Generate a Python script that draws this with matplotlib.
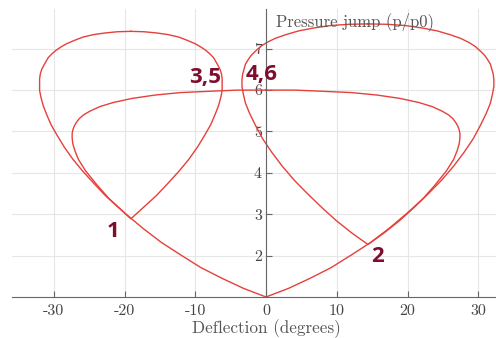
import numpy as np
import matplotlib
matplotlib.use("Agg")
import matplotlib.pyplot as plt
from matplotlib.transforms import blended_transform_factory

# Shock polars (deflection measured from each polar's centre, pressure p/p0)
# incident polar, free stream at origin
polar0_center = 0.0
polar0_defl = [0.0, 3.2, 6.2, 9.2, 12.0, 14.8, 17.4, 19.9, 22.2, 24.0, 25.5, 26.5, 27.0, 27.3, 27.4,
               27.4, 27.3, 27.1, 26.8, 26.4, 25.8, 24.9, 23.5, 21.6, 18.9, 15.7, 12.1, 8.2, 4.1, 0.0]
polar0_p = [1.00, 1.21, 1.45, 1.71, 2.01, 2.32, 2.66, 3.02, 3.38, 3.73, 4.05, 4.32, 4.53, 4.70, 4.84,
            4.95, 5.04, 5.13, 5.22, 5.31, 5.40, 5.49, 5.60, 5.70, 5.80, 5.88, 5.94, 5.97, 6.00, 6.00]

# polar from state 1 (left)
polar1_center = -19.1
polar1_defl = [0.0, 1.8, 3.6, 5.2, 6.8, 8.2, 9.4, 10.4, 11.3, 11.9, 12.4, 12.7, 12.9, 12.9, 12.9,
               12.8, 12.6, 12.3, 12.0, 11.7, 11.2, 10.6, 9.9, 9.1, 8.0, 6.8, 5.3, 3.7, 1.9, 0.0]
polar1_p = [2.89, 3.17, 3.45, 3.74, 4.04, 4.33, 4.62, 4.90, 5.17, 5.41, 5.63, 5.82, 5.99, 6.14, 6.27,
            6.39, 6.50, 6.60, 6.69, 6.78, 6.87, 6.96, 7.04, 7.12, 7.20, 7.28, 7.34, 7.38, 7.41, 7.42]

# polar from state 2 (right)
polar2_center = 14.4
polar2_defl = [0.0, 2.3, 4.5, 6.5, 8.5, 10.4, 12.1, 13.6, 14.9, 15.9, 16.7, 17.3, 17.6, 17.8, 17.8,
               17.7, 17.5, 17.3, 16.9, 16.5, 15.9, 15.2, 14.3, 13.1, 11.6, 9.8, 7.7, 5.3, 2.7, 0.0]
polar2_p = [2.27, 2.55, 2.85, 3.16, 3.49, 3.82, 4.16, 4.50, 4.83, 5.15, 5.43, 5.68, 5.90, 6.09, 6.25,
            6.39, 6.51, 6.63, 6.74, 6.84, 6.94, 7.05, 7.15, 7.25, 7.34, 7.43, 7.50, 7.56, 7.59, 7.60]

state_labels = ["1", "2", "3,5", "4,6"]
state_x = [-21.6, 15.8, -8.6, -0.6]
state_y = [2.45, 1.85, 6.17, 6.24]

x_ticks = [-30, -20, -10, 0, 10, 20, 30]
y_ticks = [2, 3, 4, 5, 6, 7]

plt.rcParams["font.family"] = ["cmr10", "DejaVu Serif"]
plt.rcParams["axes.unicode_minus"] = False

fig = plt.figure(figsize=(4.96, 3.38), dpi=100)
ax = fig.add_axes([12 / 496, 41 / 338, 484 / 496, 288 / 338])

line_color = "#e6403a"
for c, d, p in [(polar0_center, polar0_defl, polar0_p),
                (polar1_center, polar1_defl, polar1_p),
                (polar2_center, polar2_defl, polar2_p)]:
    d = np.array(d)
    p = np.array(p)
    xs = np.r_[c - d[::-1], c + d]
    ys = np.r_[p[::-1], p]
    ax.plot(xs, ys, color=line_color, lw=1.0)

for lab, x, y in zip(state_labels, state_x, state_y):
    ax.text(x, y, lab, family="Open Sans", weight="bold", fontsize=16,
            color="#7f0d2d", ha="center", va="baseline")

ax.set_xlim(-35.9, 32.5)
ax.set_ylim(1, 7.96)
ax.set_xticks(x_ticks)
ax.set_yticks(y_ticks)
ax.grid(True, color="#e6e6e6", lw=0.8)
ax.set_axisbelow(True)

for s in ["top", "right"]:
    ax.spines[s].set_visible(False)
ax.spines["left"].set_position(("data", 0))
ax.spines["bottom"].set_position(("data", 1))
for s in ["left", "bottom"]:
    ax.spines[s].set_color("#666666")
    ax.spines[s].set_linewidth(0.8)

ax.tick_params(axis="both", direction="in", length=4, width=0.8, color="#666666",
               labelcolor="#444444", labelsize=11.5)
ax.tick_params(axis="x", pad=5)
ax.tick_params(axis="y", pad=3)

ax.text(1.4, 7.55, "Pressure jump (p/p0)", fontsize=12, color="#555555",
        ha="left", va="baseline")
trans = blended_transform_factory(ax.transData, ax.transAxes)
ax.text(0, (297 - 333) / 288, "Deflection (degrees)", transform=trans, fontsize=12.3,
        color="#555555", ha="center", va="baseline", clip_on=False)

fig.savefig("out.png", dpi=100)
